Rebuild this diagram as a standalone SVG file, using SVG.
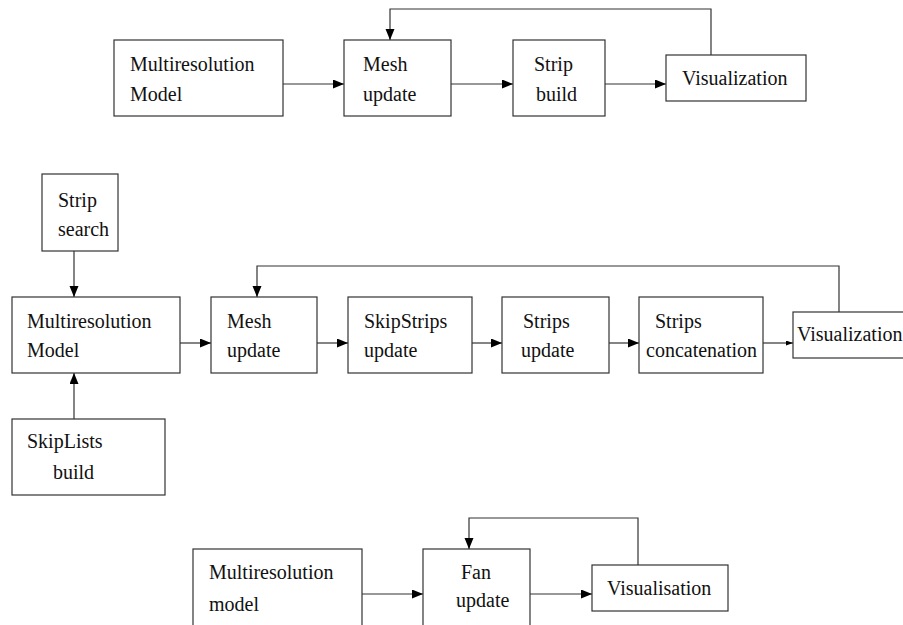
<svg xmlns="http://www.w3.org/2000/svg" width="903" height="625" viewBox="0 0 903 625">
<defs>
<style>
.box{fill:#fff;stroke:#333;stroke-width:1.2}
.ln{fill:none;stroke:#333;stroke-width:1.2}
.arr{marker-end:url(#ah)}
.arrs{marker-end:url(#ahs)}
text{font-family:'Liberation Serif','Times New Roman',Times,'Nimbus Roman','DejaVu Serif',serif;font-size:20px;fill:#111}
</style>
<marker id="ah" markerUnits="userSpaceOnUse" markerWidth="12" markerHeight="10" refX="11" refY="4.5" orient="auto">
<path d="M0,0 L11,4.5 L0,9 z" fill="#000"/>
</marker>
<marker id="ahs" markerUnits="userSpaceOnUse" markerWidth="8" markerHeight="6" refX="7" refY="2.5" orient="auto">
<path d="M0,0 L7,2.5 L0,5 z" fill="#000"/>
</marker>
</defs>
<rect width="903" height="625" fill="#fff"/>

<g id="connectors">
<line class="ln arr" x1="283" y1="84" x2="344" y2="84"/>
<line class="ln arr" x1="451" y1="84" x2="513" y2="84"/>
<line class="ln arr" x1="605" y1="84" x2="666" y2="84"/>
<polyline class="ln arr" points="711,55 711,9 390,9 390,40"/>
<line class="ln arr" x1="74" y1="251" x2="74" y2="297"/>
<line class="ln arr" x1="74" y1="419" x2="74" y2="373"/>
<line class="ln arr" x1="180" y1="343" x2="211" y2="343"/>
<line class="ln arr" x1="317" y1="343" x2="348" y2="343"/>
<line class="ln arr" x1="472" y1="343" x2="502" y2="343"/>
<line class="ln arr" x1="609" y1="343" x2="639" y2="343"/>
<line class="ln arrs" x1="763" y1="343" x2="793" y2="343"/>
<polyline class="ln arr" points="839,312 839,266 257,266 257,297"/>
<line class="ln arr" x1="362" y1="594" x2="423" y2="594"/>
<line class="ln arr" x1="530" y1="594" x2="592" y2="594"/>
<polyline class="ln arr" points="638,565 638,518 469,518 469,549"/>
</g>

<g id="top-multires">
<rect class="box" x="114" y="40" width="169" height="76"/>
<text x="130" y="71" font-family="Liberation Serif, serif">Multiresolution</text>
<text x="130" y="101" font-family="Liberation Serif, serif">Model</text>
</g>
<g id="top-mesh">
<rect class="box" x="344" y="40" width="107" height="76"/>
<text x="363" y="71">Mesh</text>
<text x="363" y="101">update</text>
</g>
<g id="top-strip">
<rect class="box" x="513" y="40" width="92" height="76"/>
<text x="534" y="71">Strip</text>
<text x="536" y="101">build</text>
</g>
<g id="top-vis">
<rect class="box" x="666" y="55" width="140" height="46"/>
<text x="682" y="85">Visualization</text>
</g>

<g id="mid-stripsearch">
<rect class="box" x="42" y="174" width="76" height="77"/>
<text x="58" y="207">Strip</text>
<text x="58" y="236">search</text>
</g>
<g id="mid-multires">
<rect class="box" x="12" y="297" width="168" height="76"/>
<text x="27" y="328">Multiresolution</text>
<text x="27" y="357">Model</text>
</g>
<g id="mid-skiplists">
<rect class="box" x="12" y="419" width="153" height="76"/>
<text x="27" y="448">SkipLists</text>
<text x="53" y="479">build</text>
</g>
<g id="mid-mesh">
<rect class="box" x="211" y="297" width="106" height="76"/>
<text x="227" y="328">Mesh</text>
<text x="227" y="357">update</text>
</g>
<g id="mid-skipstrips">
<rect class="box" x="348" y="297" width="124" height="76"/>
<text x="364" y="328">SkipStrips</text>
<text x="364" y="357">update</text>
</g>
<g id="mid-strips">
<rect class="box" x="502" y="297" width="107" height="76"/>
<text x="523" y="328">Strips</text>
<text x="521" y="357">update</text>
</g>
<g id="mid-concat">
<rect class="box" x="639" y="297" width="124" height="76"/>
<text x="655" y="328">Strips</text>
<text x="646" y="357">concatenation</text>
</g>
<g id="mid-vis">
<rect class="box" x="793" y="312" width="120" height="46"/>
<text x="797" y="341">Visualization</text>
</g>

<g id="bot-multires">
<rect class="box" x="193" y="549" width="169" height="90"/>
<text x="209" y="579">Multiresolution</text>
<text x="209" y="611">model</text>
</g>
<g id="bot-fan">
<rect class="box" x="423" y="549" width="107" height="90"/>
<text x="461" y="579">Fan</text>
<text x="456" y="607">update</text>
</g>
<g id="bot-vis">
<rect class="box" x="592" y="565" width="136" height="46"/>
<text x="607" y="595">Visualisation</text>
</g>
</svg>
